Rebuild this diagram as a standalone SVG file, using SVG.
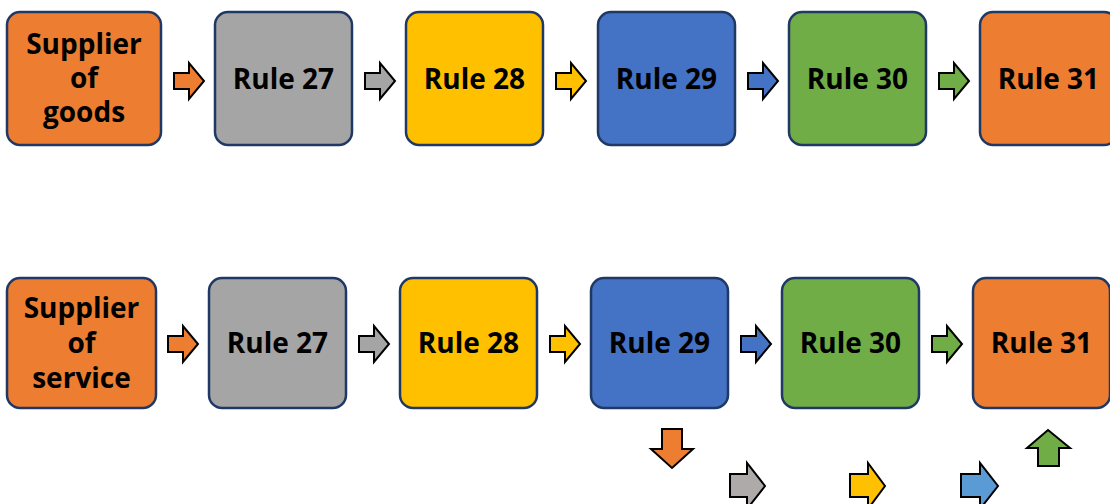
<svg xmlns="http://www.w3.org/2000/svg" width="1110" height="504" viewBox="0 0 1110 504">
<style>
.box{stroke:#203864;stroke-width:2.5}
.t{font-family:"Open Sans","Noto Sans","DejaVu Sans",sans-serif;font-weight:bold;font-size:28px;fill:#000;text-anchor:middle}
.a{stroke:#000;stroke-width:2;stroke-linejoin:miter}
.or{fill:#ED7D31}.gr{fill:#A5A5A5}.ye{fill:#FFC000}.bl{fill:#4472C4}.gn{fill:#70AD47}
</style>
<defs>
<path id="ra" d="M0,-8 H15 V-18 L30,0 L15,18 V8 H0 Z"/>
</defs>
<rect width="1110" height="504" fill="#fff"/>
<g id="top-row">
<g id="n1"><rect class="box or" x="7" y="12" width="154" height="133" rx="13"/><text class="t" x="84" y="54">Supplier</text><text class="t" x="84" y="88">of</text><text class="t" x="84" y="122">goods</text></g>
<g id="n2"><rect class="box gr" x="215" y="12" width="137" height="133" rx="13"/><text class="t" x="283.5" y="89">Rule 27</text></g>
<g id="n3"><rect class="box ye" x="406" y="12" width="137" height="133" rx="13"/><text class="t" x="474.5" y="89">Rule 28</text></g>
<g id="n4"><rect class="box bl" x="598" y="12" width="137" height="133" rx="13"/><text class="t" x="666.5" y="89">Rule 29</text></g>
<g id="n5"><rect class="box gn" x="789" y="12" width="137" height="133" rx="13"/><text class="t" x="857.5" y="89">Rule 30</text></g>
<g id="n6"><rect class="box or" x="980" y="12" width="137" height="133" rx="13"/><text class="t" x="1048.5" y="89">Rule 31</text></g>
</g>
<g id="bottom-row">
<g id="m1"><rect class="box or" x="7" y="278" width="149" height="130" rx="13"/><text class="t" x="81.5" y="318">Supplier</text><text class="t" x="81.5" y="353">of</text><text class="t" x="81.5" y="388">service</text></g>
<g id="m2"><rect class="box gr" x="209" y="278" width="137" height="130" rx="13"/><text class="t" x="277.5" y="353">Rule 27</text></g>
<g id="m3"><rect class="box ye" x="400" y="278" width="137" height="130" rx="13"/><text class="t" x="468.5" y="353">Rule 28</text></g>
<g id="m4"><rect class="box bl" x="591" y="278" width="137" height="130" rx="13"/><text class="t" x="659.5" y="353">Rule 29</text></g>
<g id="m5"><rect class="box gn" x="782" y="278" width="137" height="130" rx="13"/><text class="t" x="850.5" y="353">Rule 30</text></g>
<g id="m6"><rect class="box or" x="973" y="278" width="137" height="130" rx="13"/><text class="t" x="1041.5" y="353">Rule 31</text></g>
</g>
<g id="connectors">
<use href="#ra" class="a or" x="174" y="81"/>
<use href="#ra" class="a gr" x="365" y="81"/>
<use href="#ra" class="a ye" x="556" y="81"/>
<use href="#ra" class="a bl" x="748" y="81"/>
<use href="#ra" class="a gn" x="939" y="81"/>
<use href="#ra" class="a or" x="168" y="344"/>
<use href="#ra" class="a gr" x="359" y="344"/>
<use href="#ra" class="a ye" x="550" y="344"/>
<use href="#ra" class="a bl" x="741" y="344"/>
<use href="#ra" class="a gn" x="932" y="344"/>
<path class="a or" d="M662,429 H682 V449 H693 L672,468 L651,449 H662 Z"/>
<path class="a" fill="#AEAAAA" d="M730,474 H747 V463 L765,486 L747,509 V497 H730 Z"/>
<path class="a ye" d="M850,474 H868 V463 L885,486 L868,509 V497 H850 Z"/>
<path class="a" fill="#5B9BD5" d="M961,474 H980 V463 L998,486 L980,509 V497 H961 Z"/>
<path class="a gn" d="M1038,466 V448 H1027 L1048,430 L1070,448 H1059 V466 Z"/>
</g>
</svg>
